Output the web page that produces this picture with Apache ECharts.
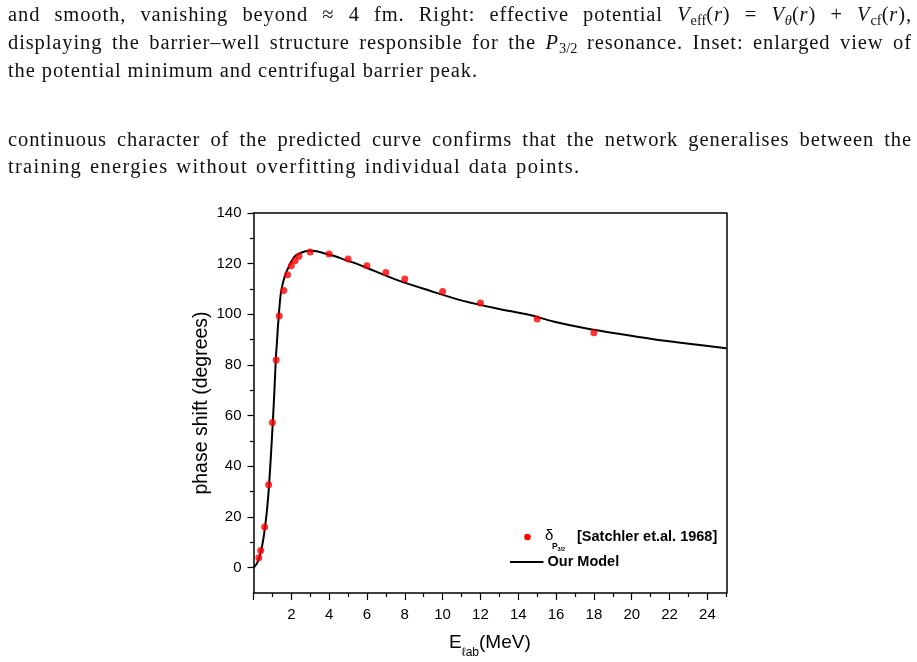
<!DOCTYPE html>
<html>
<head>
<meta charset="utf-8">
<script src="https://cdn.jsdelivr.net/npm/echarts@6/dist/echarts.min.js"></script>
<style>
  html, body { margin: 0; padding: 0; background: #fff; }
  body { width: 917px; height: 662px; position: relative; overflow: hidden; }
  #chart { position: absolute; left: 0; top: 0; width: 917px; height: 662px; }
  .ln {
    position: absolute; left: 8px; width: 904px; height: 28px;
    font-family: "Liberation Serif", serif; font-size: 20.5px; line-height: 28px;
    letter-spacing: 0.9px;
    color: #111; white-space: nowrap; z-index: 2;
  }
  .ln.j { text-align: justify; text-align-last: justify; white-space: normal; }
  .ln sub { font-size: 70%; line-height: 0; vertical-align: -0.3em; letter-spacing: 0; }
</style>
</head>
<body>
<div class="ln j" style="top:0px">and smooth, vanishing beyond ≈ 4 fm. Right: effective potential <i>V</i><sub>eff</sub>(<i>r</i>) = <i>V</i><sub><i>θ</i></sub>(<i>r</i>) + <i>V</i><sub>cf</sub>(<i>r</i>),</div>
<div class="ln j" style="top:28px">displaying the barrier–well structure responsible for the <i>P</i><sub>3/2</sub> resonance. Inset: enlarged view of</div>
<div class="ln" style="top:56px">the potential minimum and centrifugal barrier peak.</div>
<div class="ln j" style="top:125px">continuous character of the predicted curve confirms that the network generalises between the</div>
<div class="ln" style="top:152px; letter-spacing:1.3px; word-spacing:1.5px">training energies without overfitting individual data points.</div>
<div id="chart"></div>
<script>
// experimental points (Satchler et al. 1968)
const expE = [0.28, 0.38, 0.59, 0.8, 1.0, 1.2, 1.36, 1.6, 1.8, 2.0, 2.2, 2.4, 3, 4, 5, 6, 7, 8, 10, 12, 15, 18];
const expPhase = [3.9, 6.8, 16.1, 32.7, 57.3, 82.0, 99.3, 109.4, 115.6, 119.2, 121.2, 122.9, 124.6, 123.8, 121.8, 119.2, 116.5, 113.9, 109.0, 104.5, 98.2, 92.7];

// model curve
const modelE = [0, 0.16, 0.34, 0.52, 0.7, 0.82, 0.93, 1.02, 1.11, 1.18, 1.25, 1.31, 1.45, 1.66, 1.93, 2.19, 2.55, 2.9, 3.25, 3.78, 4.31, 4.84, 5.37, 5.81, 7.57, 9.33, 11.09, 12.86, 14.62, 15.85, 17.62, 19.38, 21.14, 22.91, 25];
const modelPhase = [0, 1.4, 4.7, 11.3, 21.8, 32.3, 45.5, 57.3, 70.5, 82.3, 90.2, 96.8, 108.6, 115.2, 119.8, 122.9, 124.4, 125.1, 125.0, 124.0, 122.9, 121.5, 120.2, 118.9, 113.6, 109.3, 105.3, 102.3, 99.7, 97.2, 94.4, 92.2, 90.2, 88.5, 86.6];

const xMajor = [0, 2, 4, 6, 8, 10, 12, 14, 16, 18, 20, 22, 24];
const xLabels = [2, 4, 6, 8, 10, 12, 14, 16, 18, 20, 22, 24];
const xMinor = [1, 3, 5, 7, 9, 11, 13, 15, 17, 19, 21, 23, 25];
const yMajor = [0, 20, 40, 60, 80, 100, 120, 140];
const yMinor = [10, 30, 50, 70, 90, 110, 130];

const chart = echarts.init(document.getElementById('chart'));
const font = 'Liberation Sans, Arial, sans-serif';
const axisLine = { show: true, onZero: false, lineStyle: { color: '#000', width: 1.5 } };
const noLine = { show: false, onZero: false };
const hidden = { show: false };

const option = {
  animation: false,
  grid: { left: 253.5, right: 190.7, top: 213, bottom: 69, containLabel: false, outerBoundsMode: 'none' },
  xAxis: [
    {
      type: 'value', min: 0, max: 25, position: 'bottom',
      axisLine: axisLine,
      axisTick: { customValues: xMajor, length: 7, lineStyle: { color: '#000', width: 1.2 } },
      axisLabel: { customValues: xLabels, color: '#000', fontSize: 15, fontFamily: font, margin: 14 },
      splitLine: hidden,
      name: '{a|E}{s|ℓab}{a|(MeV)}',
      nameLocation: 'middle',
      nameGap: 40,
      nameMoveOverlap: false,
      nameTextStyle: {
        rich: {
          a: { fontSize: 19, fontFamily: font, color: '#000', lineHeight: 26, verticalAlign: 'top' },
          s: { fontSize: 12, fontFamily: font, color: '#000', lineHeight: 26, verticalAlign: 'bottom' }
        }
      }
    },
    {
      type: 'value', min: 0, max: 25, position: 'bottom',
      axisLine: noLine,
      axisTick: { customValues: xMinor, length: 4, lineStyle: { color: '#000', width: 1.2 } },
      axisLabel: hidden, splitLine: hidden
    },
    {
      type: 'value', min: 0, max: 25, position: 'top',
      axisLine: axisLine, axisTick: hidden, axisLabel: hidden, splitLine: hidden
    }
  ],
  yAxis: [
    {
      type: 'value', min: -10, max: 140, position: 'left',
      axisLine: axisLine,
      axisTick: { customValues: yMajor, length: 6, lineStyle: { color: '#000', width: 1.2 } },
      axisLabel: { customValues: yMajor, color: '#000', fontSize: 15, fontFamily: font, margin: 12 },
      splitLine: hidden,
      name: 'phase shift (degrees)',
      nameLocation: 'middle',
      nameGap: 42,
      nameMoveOverlap: false,
      nameTextStyle: { fontSize: 19.5, fontFamily: font, color: '#000' }
    },
    {
      type: 'value', min: -10, max: 140, position: 'left',
      axisLine: noLine,
      axisTick: { customValues: yMinor, length: 3.5, lineStyle: { color: '#000', width: 1.2 } },
      axisLabel: hidden, splitLine: hidden
    },
    {
      type: 'value', min: -10, max: 140, position: 'right',
      axisLine: axisLine, axisTick: hidden, axisLabel: hidden, splitLine: hidden
    }
  ],
  series: [
    {
      name: 'Our Model',
      type: 'line',
      data: modelE.map((e, i) => [e, modelPhase[i]]),
      smooth: 0.3,
      showSymbol: false,
      lineStyle: { color: '#000', width: 2 },
      z: 2
    },
    {
      name: 'Satchler',
      type: 'scatter',
      data: expE.map((e, i) => [e, expPhase[i]]),
      symbolSize: 7,
      itemStyle: { color: '#ff0000' },
      z: 3
    }
  ],
  graphic: [
    { type: 'circle', shape: { cx: 527.5, cy: 537, r: 3.3 }, style: { fill: '#ff0000' } },
    { type: 'text', x: 545, y: 536, style: { text: 'δ', font: '15px ' + font, fill: '#000', verticalAlign: 'middle' } },
    { type: 'text', x: 552, y: 546.5, style: { text: 'P', font: 'bold 8.5px ' + font, fill: '#000', verticalAlign: 'middle' } },
    { type: 'text', x: 557.5, y: 549, style: { text: '3/2', font: 'bold 5.5px ' + font, fill: '#000', verticalAlign: 'middle' } },
    { type: 'text', x: 577, y: 537, style: { text: '[Satchler et.al. 1968]', font: 'bold 14.5px ' + font, fill: '#000', verticalAlign: 'middle' } },
    { type: 'line', shape: { x1: 510, y1: 562, x2: 543.5, y2: 562 }, style: { stroke: '#000', lineWidth: 2 } },
    { type: 'text', x: 547.5, y: 562, style: { text: 'Our Model', font: 'bold 14.5px ' + font, fill: '#000', verticalAlign: 'middle' } }
  ]
};

chart.setOption(option);
window.addEventListener('resize', () => { chart && chart.resize(); });
</script>
</body>
</html>
